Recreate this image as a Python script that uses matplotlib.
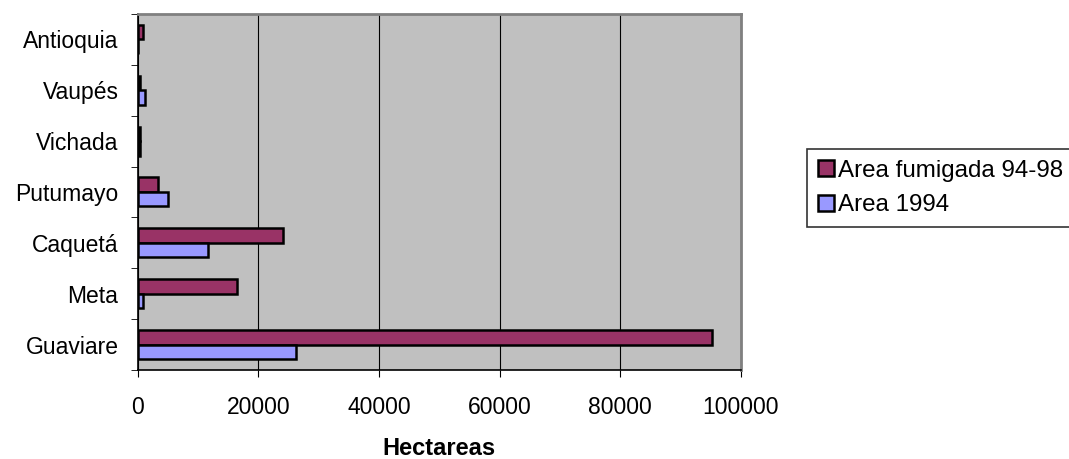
import numpy as np
import matplotlib.pyplot as plt

plt.rcParams['font.family'] = ['Liberation Sans', 'DejaVu Sans']

departamentos = ['Guaviare', 'Meta', 'Caquetá', 'Putumayo', 'Vichada', 'Vaupés', 'Antioquia']
fumigada = [95300, 16500, 24000, 3300, 400, 300, 900]
area_1994 = [26300, 800, 11700, 5000, 400, 1200, 0]

fig = plt.figure(figsize=(10.69, 4.59), dpi=100)
ax = fig.add_axes([0.129, 0.194, 0.564, 0.7755])
ax.set_facecolor('#C0C0C0')

y = np.arange(len(departamentos))
h = 0.285
ax.barh(y + h / 2, fumigada, height=h, color='#993366', edgecolor='black', linewidth=1.8,
        label='Area fumigada 94-98', zorder=3)
ax.barh(y - h / 2, area_1994, height=h, color='#9999FF', edgecolor='black', linewidth=1.8,
        label='Area 1994', zorder=3)

ax.set_xlim(0, 100000)
ax.set_ylim(-0.5, len(departamentos) - 0.5)
ax.set_xticks(np.arange(0, 100001, 20000))
ax.xaxis.grid(True, color='black', linewidth=0.8, zorder=1)
ax.set_yticks(y)
ax.set_yticklabels(departamentos)
ax.set_yticks(np.arange(-0.5, len(departamentos)), minor=True)
ax.tick_params(axis='y', which='major', length=0, pad=14, labelsize=16.5)
ax.tick_params(axis='y', which='minor', length=5, direction='out')
ax.tick_params(axis='x', length=5, direction='out', pad=14, labelsize=16.5)
ax.set_xlabel('Hectareas', fontsize=17, fontweight='bold', labelpad=13)

ax.spines['left'].set_color('black')
ax.spines['bottom'].set_color('black')
ax.spines['top'].set_color('#808080')
ax.spines['right'].set_color('#808080')
ax.spines['top'].set_linewidth(2)
ax.spines['right'].set_linewidth(2)
ax.spines['left'].set_linewidth(1.2)
ax.spines['bottom'].set_linewidth(1.2)

handles, labels = ax.get_legend_handles_labels()
leg = fig.legend(handles, labels, loc='upper left', bbox_to_anchor=(807 / 1069, 1 - 149 / 459),
                 fontsize=17.4, frameon=True, fancybox=False, edgecolor='black',
                 handlelength=0.65, handleheight=0.65, handletextpad=0.2, borderpad=0.45,
                 labelspacing=0.52, borderaxespad=0)
leg.get_frame().set_linewidth(1.2)

plt.savefig('out.png', dpi=100)
